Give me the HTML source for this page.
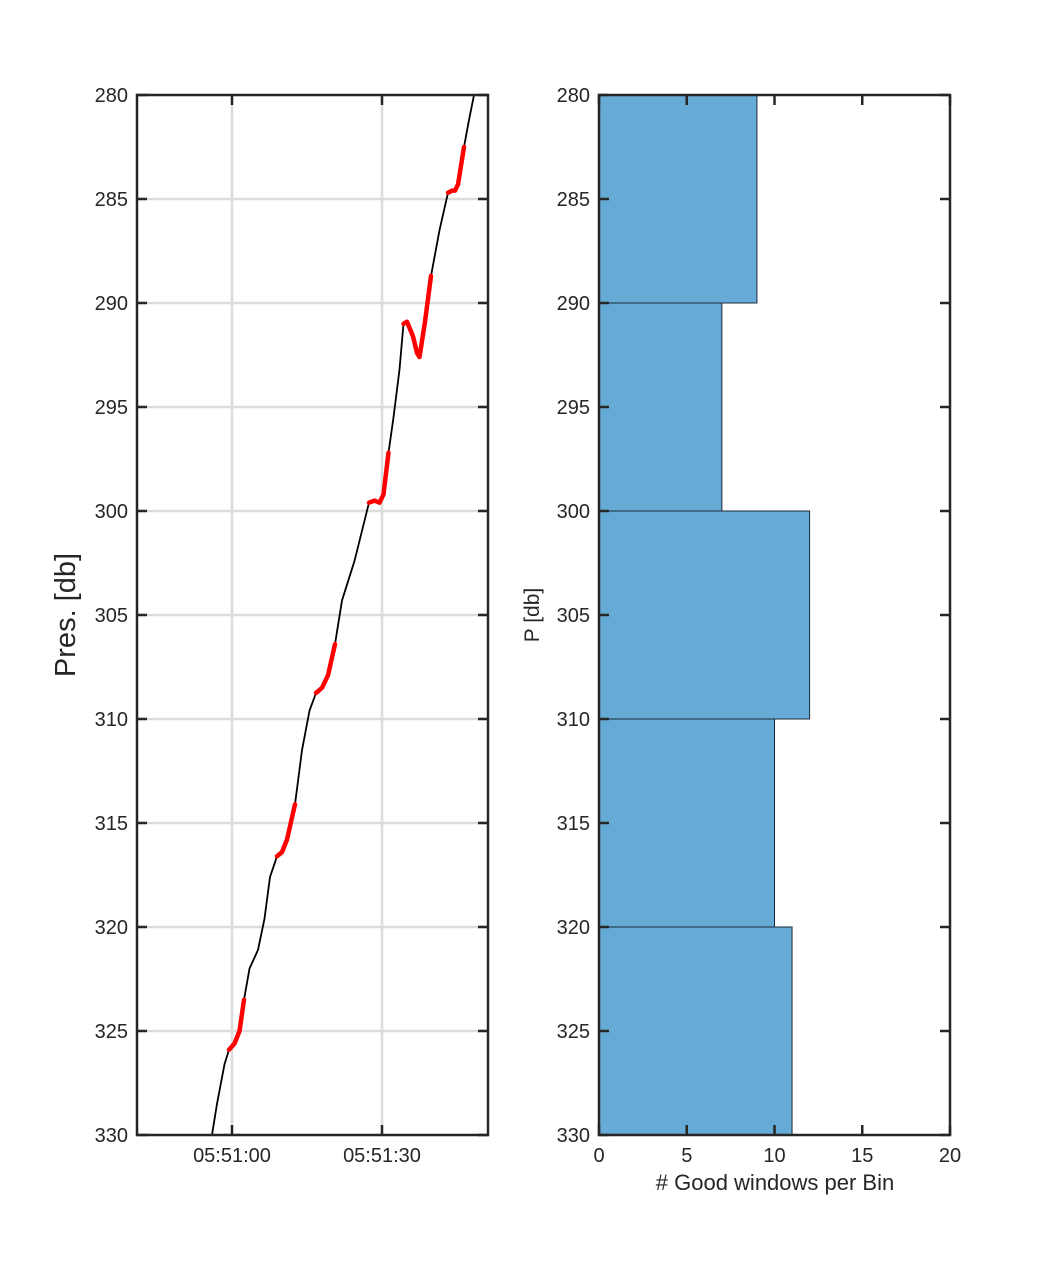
<!DOCTYPE html>
<html><head><meta charset="utf-8"><style>
body{margin:0;background:#fff;}
svg text{font-family:"Liberation Sans",sans-serif;fill:#262626;}
</style></head><body>
<svg id="c" width="1050" height="1275"></svg>
<script>
// black profile: time (s rel 05:51:00), pressure (db)
const lineT=[-4,-3,-1.5,-0.6,0.5,1.5,2.4,3.5,5.2,6.5,7.6,9,10,11,12.6,14,15.5,16.8,18,19.2,20.6,22,24.5,27.4,28.5,29.5,30.3,31.3,32.3,33.5,34.3,35,36.2,37,37.5,38.6,39.8,41.5,43.2,44,44.6,45.2,46.4,47.4,48.4];
const lineP=[330,328.5,326.6,325.9,325.6,325.0,323.5,322,321.1,319.6,317.6,316.6,316.4,315.8,314.1,311.5,309.6,308.75,308.5,307.9,306.4,304.3,302.4,299.6,299.5,299.6,299.2,297.2,295.5,293.2,291,290.9,291.6,292.4,292.6,290.9,288.7,286.5,284.7,284.6,284.6,284.3,282.5,281.2,280];
// red good-window segments
const redT=[[-0.6,0.5,1.5,2.4],[9,10,11,12.6],[16.8,18,19.2,20.6],[27.4,28.5,29.5,30.3,31.3],[34.3,35,36.2,37,37.5,38.6,39.8],[43.2,44,44.6,45.2,46.4]];
const redP=[[325.9,325.6,325.0,323.5],[316.6,316.4,315.8,314.1],[308.75,308.5,307.9,306.4],[299.6,299.5,299.6,299.2,297.2],[291,290.9,291.6,292.4,292.6,290.9,288.7],[284.7,284.6,284.6,284.3,282.5]];
// histogram
const binLo=[280,290,300,310,320];
const binHi=[290,300,310,320,330];
const counts=[9,7,12,10,11];
const pTicks=[280,285,290,295,300,305,310,315,320,325,330];
const tTicks=[0,30];
const tLabels=["05:51:00","05:51:30"];
const cTicks=[0,5,10,15,20];

const NS="http://www.w3.org/2000/svg",svg=document.getElementById('c');
function el(t,a,p){const e=document.createElementNS(NS,t);for(const k in a)e.setAttribute(k,a[k]);(p||svg).appendChild(e);return e;}
const Y=p=>95+(p-280)*(1135-95)/50;
const XL=t=>232+t*5;
const XR=c=>599+c*(950-599)/20;

// left axes
const gL=el('g',{});
pTicks.forEach(p=>{const l=el('line',{x1:137,x2:488,y1:Y(p),y2:Y(p),stroke:'#dcdcdc','stroke-width':2.5},gL);});
tTicks.forEach(t=>{const l=el('line',{x1:XL(t),x2:XL(t),y1:95,y2:1135,stroke:'#dcdcdc','stroke-width':2.5},gL);});
const pl=el('polyline',{points:lineT.map((t,i)=>XL(t)+','+Y(lineP[i])).join(' '),fill:'none',stroke:'#000','stroke-width':1.8,'stroke-linejoin':'round'},gL);

redT.forEach((ts,j)=>{const r=el('polyline',{points:ts.map((t,i)=>XL(t)+','+Y(redP[j][i])).join(' '),fill:'none',stroke:'#ff0000','stroke-width':4.5,'stroke-linecap':'round','stroke-linejoin':'round'},gL);});
el('rect',{x:137,y:95,width:351,height:1040,fill:'none',stroke:'#262626','stroke-width':2.5},gL);
pTicks.forEach(p=>{el('line',{x1:137,x2:147,y1:Y(p),y2:Y(p),stroke:'#262626','stroke-width':2.5},gL);el('line',{x1:478,x2:488,y1:Y(p),y2:Y(p),stroke:'#262626','stroke-width':2.5},gL);
 const tx=el('text',{x:128,y:Y(p)+7,'text-anchor':'end','font-size':20},gL);tx.textContent=p;});
tTicks.forEach((t,i)=>{el('line',{x1:XL(t),x2:XL(t),y1:95,y2:105,stroke:'#262626','stroke-width':2.5},gL);el('line',{x1:XL(t),x2:XL(t),y1:1125,y2:1135,stroke:'#262626','stroke-width':2.5},gL);
 const tx=el('text',{x:XL(t),y:1162,'text-anchor':'middle','font-size':20},gL);tx.textContent=tLabels[i];});
const yt=el('text',{x:0,y:0,'text-anchor':'middle','font-size':29,transform:'translate(75,615) rotate(-90)'},gL);yt.textContent='Pres. [db]';


// right axes
const gR=el('g',{});
counts.forEach((c,i)=>{const b=el('rect',{x:XR(0),y:Y(binLo[i]),width:XR(c)-XR(0),height:Y(binHi[i])-Y(binLo[i]),fill:'#66aad6',stroke:'#1a2b3a','stroke-width':1},gR);});
el('rect',{x:599,y:95,width:351,height:1040,fill:'none',stroke:'#262626','stroke-width':2.5},gR);
pTicks.forEach(p=>{el('line',{x1:599,x2:609,y1:Y(p),y2:Y(p),stroke:'#262626','stroke-width':2.5},gR);el('line',{x1:940,x2:950,y1:Y(p),y2:Y(p),stroke:'#262626','stroke-width':2.5},gR);
 const tx=el('text',{x:590,y:Y(p)+7,'text-anchor':'end','font-size':20},gR);tx.textContent=p;});
cTicks.forEach(c=>{el('line',{x1:XR(c),x2:XR(c),y1:95,y2:105,stroke:'#262626','stroke-width':2.5},gR);el('line',{x1:XR(c),x2:XR(c),y1:1125,y2:1135,stroke:'#262626','stroke-width':2.5},gR);
 const tx=el('text',{x:XR(c),y:1162,'text-anchor':'middle','font-size':20},gR);tx.textContent=c;});
const yt2=el('text',{x:0,y:0,'text-anchor':'middle','font-size':21,transform:'translate(539,615) rotate(-90)'},gR);yt2.textContent='P [db]';

const xt=el('text',{x:775,y:1190,'text-anchor':'middle','font-size':22},gR);xt.textContent='# Good windows per Bin';

</script>
</body></html>
